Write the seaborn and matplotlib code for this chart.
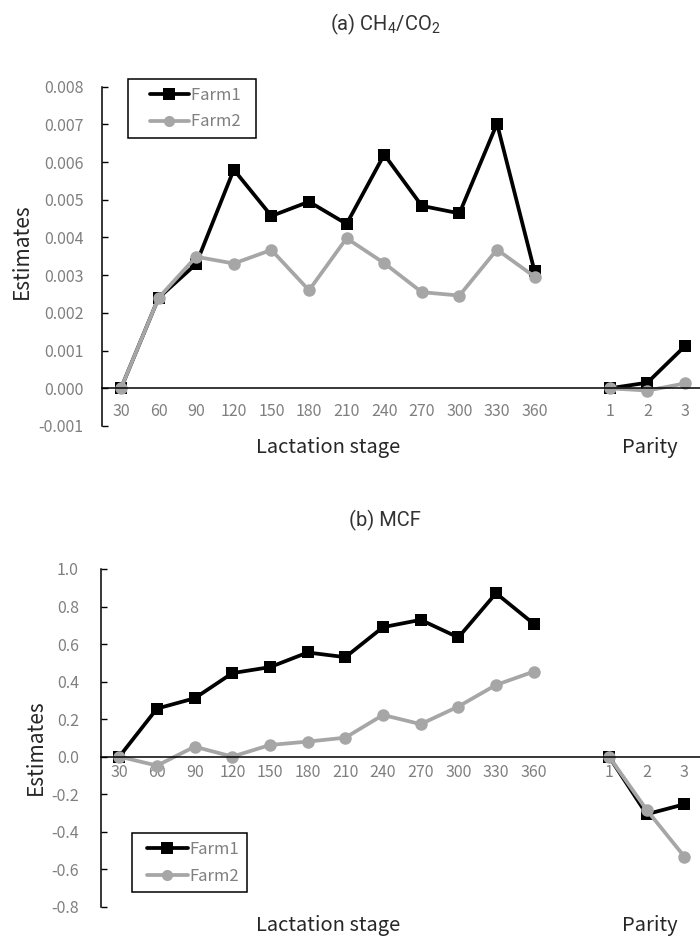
import numpy as np
import pandas as pd
import matplotlib
matplotlib.use("Agg")
import matplotlib.pyplot as plt
import seaborn as sns
from matplotlib.lines import Line2D
from matplotlib.legend_handler import HandlerLine2D

# Categories
lactation_days = [30, 60, 90, 120, 150, 180, 210, 240, 270, 300, 330, 360]
parity_levels = [1, 2, 3]
farms = ["Farm1", "Farm2"]

# (a) CH4/CO2 estimates
ch4_farm1_lact = [0.0, 0.0024, 0.0033, 0.0058, 0.00457, 0.00495, 0.00436,
                  0.0062, 0.00484, 0.00464, 0.00702, 0.0031]
ch4_farm2_lact = [0.0, 0.0024, 0.00349, 0.00331, 0.00367, 0.0026, 0.00398,
                  0.00332, 0.00255, 0.00246, 0.00368, 0.00296]
ch4_farm1_parity = [0.0, 0.00015, 0.00112]
ch4_farm2_parity = [0.0, -0.00006, 0.00013]

# (b) MCF estimates
mcf_farm1_lact = [0.0, 0.256, 0.311, 0.445, 0.477, 0.555, 0.53,
                  0.69, 0.729, 0.635, 0.871, 0.708]
mcf_farm2_lact = [0.0, -0.048, 0.053, 0.0, 0.062, 0.08, 0.101,
                  0.222, 0.173, 0.267, 0.382, 0.453]
mcf_farm1_parity = [0.0, -0.307, -0.254]
mcf_farm2_parity = [0.0, -0.284, -0.533]

# Y-axis tick values
ch4_yticks = [-0.001, 0.0, 0.001, 0.002, 0.003, 0.004, 0.005, 0.006, 0.007, 0.008]
mcf_yticks = [-0.8, -0.6, -0.4, -0.2, 0.0, 0.2, 0.4, 0.6, 0.8, 1.0]

sns.set_style("white")
plt.rcParams["font.family"] = ["Noto Sans CJK JP", "DejaVu Sans"]
plt.rcParams["mathtext.default"] = "regular"

GRAY_TXT = "#7f7f7f"
DARK_TXT = "#262626"
palette = {"Farm1": "#000000", "Farm2": "#a6a6a6"}
markers = {"Farm1": "s", "Farm2": "o"}

n_lact = len(lactation_days)
parity_start = n_lact + 1           # one empty slot between the groups
n_slots = parity_start + len(parity_levels)
slot_labels = [str(d) for d in lactation_days] + [""] + [str(p) for p in parity_levels]


def build_frame(f1_lact, f2_lact, f1_par, f2_par):
    rows = []
    series = {"Farm1": (f1_lact, f1_par), "Farm2": (f2_lact, f2_par)}
    for farm in farms:
        lact, par = series[farm]
        for i, v in enumerate(lact):
            rows.append({"pos": i, "value": v, "farm": farm, "segment": "lact"})
        for j, v in enumerate(par):
            rows.append({"pos": parity_start + j, "value": v, "farm": farm,
                         "segment": "parity"})
    return pd.DataFrame(rows)


def draw_panel(ax, df, yticks, fmt, xlab_pad, ylab_pad):
    sns.lineplot(data=df, x="pos", y="value", hue="farm", style="farm",
                 units="segment", estimator=None, sort=False,
                 hue_order=farms, style_order=farms,
                 palette=palette, markers=markers, dashes=False,
                 linewidth=2.7, markersize=9, markeredgewidth=0,
                 legend=False, ax=ax, clip_on=False)
    ax.set_xlim(-0.5, n_slots - 0.5)
    ax.set_ylim(yticks[0], yticks[-1])
    ax.set_xticks(range(n_slots))
    ax.set_xticklabels(slot_labels)
    ax.set_xticks(np.arange(0.5, n_slots - 0.5, 1.0), minor=True)
    ax.set_yticks(yticks)
    ax.set_yticklabels([fmt.format(v) for v in yticks])
    ax.tick_params(axis="x", which="major", length=0, pad=xlab_pad,
                   labelsize=11.5, labelcolor=GRAY_TXT)
    ax.tick_params(axis="x", which="minor", direction="in", length=5,
                   width=1, color="black")
    ax.tick_params(axis="y", which="major", direction="in", length=4,
                   width=1, color="black", pad=ylab_pad, labelsize=11.5,
                   labelcolor=GRAY_TXT, left=True)
    for s in ("top", "right"):
        ax.spines[s].set_visible(False)
    ax.spines["bottom"].set_position(("data", 0))
    ax.spines["bottom"].set_color("black")
    ax.spines["bottom"].set_linewidth(1.1)
    ax.spines["left"].set_color("black")
    ax.spines["left"].set_linewidth(1.1)
    ax.set_xlabel("")
    ax.set_ylabel("")
    ax.patch.set_alpha(0)


def add_legend(ax, fig, anchor, lead, handle_len, tail):
    handles = [Line2D([], [], color=palette[f], marker=markers[f], lw=2.7,
                      markersize=8, markeredgewidth=0) for f in farms]
    labels = [f + " " * tail for f in farms]
    leg = ax.legend(handles, labels, loc="upper left", bbox_to_anchor=anchor,
                    bbox_transform=fig.transFigure, frameon=True,
                    fancybox=False, edgecolor="black", framealpha=1,
                    handlelength=handle_len, handletextpad=0.1,
                    labelspacing=0.6, borderpad=0.45, borderaxespad=0,
                    fontsize=12, labelcolor=GRAY_TXT,
                    handler_map={Line2D: HandlerLine2D(xpad=lead)})
    leg.get_frame().set_linewidth(1.1)
    leg.set_zorder(5)


fig = plt.figure(figsize=(7.0, 9.36), dpi=100)
W, H = 700.0, 936.0

# (a) CH4/CO2
ax_a = fig.add_axes([102.2 / W, 1 - 426.0 / H, 601.6 / W, (426.0 - 86.7) / H])
df_a = build_frame(ch4_farm1_lact, ch4_farm2_lact, ch4_farm1_parity, ch4_farm2_parity)
draw_panel(ax_a, df_a, ch4_yticks, "{:.3f}", xlab_pad=10.5, ylab_pad=13.5)
add_legend(ax_a, fig, (128.3 / W, 1 - 79.0 / H), lead=0.84, handle_len=3.2, tail=2)

# (b) MCF
ax_b = fig.add_axes([100.5 / W, 1 - 906.7 / H, 602.7 / W, (906.7 - 569.0) / H])
df_b = build_frame(mcf_farm1_lact, mcf_farm2_lact, mcf_farm1_parity, mcf_farm2_parity)
draw_panel(ax_b, df_b, mcf_yticks, "{:.1f}", xlab_pad=5, ylab_pad=15.5)
add_legend(ax_b, fig, (131.7 / W, 1 - 833.3 / H), lead=0.44, handle_len=2.93, tail=0)

# Titles and axis labels
fig.text(385 / W, 1 - 24 / H, r"(a) CH$_4$/CO$_2$", ha="center", va="center",
         fontsize=14.5, color="#333333", family=["Roboto", "DejaVu Sans"])
fig.text(385 / W, 1 - 520 / H, "(b) MCF", ha="center", va="center",
         fontsize=14.5, color="#333333", family=["Roboto", "DejaVu Sans"])

fig.text(21.5 / W, 1 - 251 / H, "Estimates", rotation=90, ha="center",
         va="center", fontsize=15, color=DARK_TXT)
fig.text(36 / W, 1 - 747 / H, "Estimates", rotation=90, ha="center",
         va="center", fontsize=15, color=DARK_TXT)

fig.text(328 / W, 1 - 447 / H, "Lactation stage", ha="center", va="center",
         fontsize=14.5, color=DARK_TXT)
fig.text(650 / W, 1 - 447 / H, "Parity", ha="center", va="center",
         fontsize=14.5, color=DARK_TXT)
fig.text(328 / W, 1 - 926 / H, "Lactation stage", ha="center", va="center",
         fontsize=14.5, color=DARK_TXT)
fig.text(650 / W, 1 - 926 / H, "Parity", ha="center", va="center",
         fontsize=14.5, color=DARK_TXT)

fig.savefig("out.png", dpi=100)
